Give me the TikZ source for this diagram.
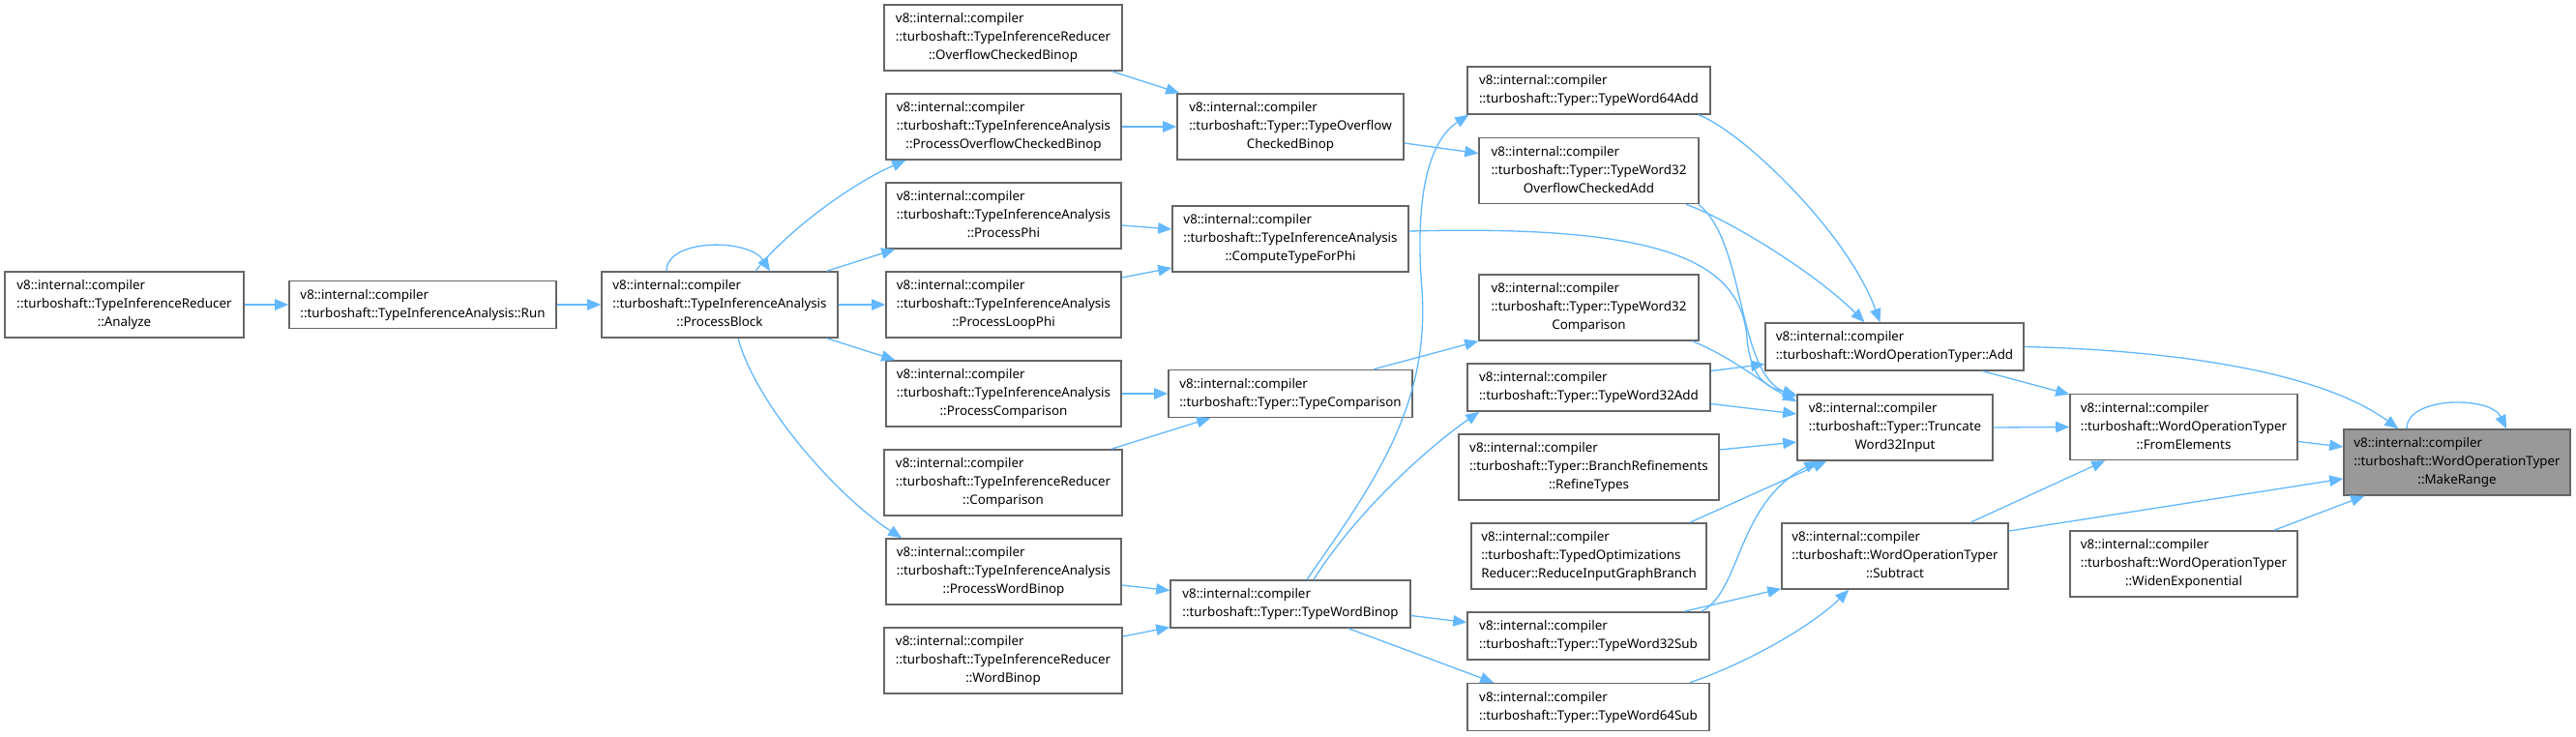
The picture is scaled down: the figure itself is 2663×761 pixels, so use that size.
\documentclass[tikz,border=0pt]{standalone}
\usepackage{fontspec}
\setmainfont{Noto Sans}
\usepackage{xcolor}
\usepackage{tikz}
\usetikzlibrary{arrows.meta, calc}
\definecolor{edgeBlue}{HTML}{63B8FF}
\definecolor{boxLine}{HTML}{666666}
\definecolor{boxFocus}{HTML}{999999}
\newcommand{\twoln}[2]{\begin{tabular}{@{}l@{}}#1\\#2\end{tabular}}
\newcommand{\threeln}[3]{\begin{tabular}{@{}l@{}}#1\\#2\\\multicolumn{1}{@{}c@{}}{#3}\end{tabular}}

\begin{document}
\begin{tikzpicture}[x=0.02cm, y=-0.02cm,
  func/.style={draw=boxLine, fill=white, line width=0.85pt, inner sep=0pt,
    minimum height=1.36cm, font=\fontsize{7.6}{10.8}\selectfont},
  low/.style={minimum height=0.98cm},
  wd/.style={minimum width=#1*0.02cm},
  callarrow/.style={draw=edgeBlue, line width=0.75pt, -{Triangle[length=8pt,width=6.5pt]}}]
\useasboundingbox (0,0) rectangle (2663,761);

% callers of ProcessBlock
\node[func, wd=247] (analyze) at (128.5,315) {\threeln{v8::internal::compiler}{::turboshaft::TypeInferenceReducer}{::Analyze}};
\node[func, low, wd=276] (run) at (437,315) {\twoln{v8::internal::compiler}{::turboshaft::TypeInferenceAnalysis::Run}};
\node[func, wd=244] (procblock) at (744,315) {\threeln{v8::internal::compiler}{::turboshaft::TypeInferenceAnalysis}{::ProcessBlock}};

% third column
\node[func, wd=246] (ovfbinop) at (1037,39) {\threeln{v8::internal::compiler}{::turboshaft::TypeInferenceReducer}{::OverflowCheckedBinop}};
\node[func, wd=243] (procovf) at (1037.5,131) {\threeln{v8::internal::compiler}{::turboshaft::TypeInferenceAnalysis}{::ProcessOverflowCheckedBinop}};
\node[func, wd=243] (procphi) at (1037.5,223) {\threeln{v8::internal::compiler}{::turboshaft::TypeInferenceAnalysis}{::ProcessPhi}};
\node[func, wd=243] (procloopphi) at (1037.5,315) {\threeln{v8::internal::compiler}{::turboshaft::TypeInferenceAnalysis}{::ProcessLoopPhi}};
\node[func, wd=243] (proccmp) at (1037.5,407) {\threeln{v8::internal::compiler}{::turboshaft::TypeInferenceAnalysis}{::ProcessComparison}};
\node[func, wd=246] (cmp) at (1037,499) {\threeln{v8::internal::compiler}{::turboshaft::TypeInferenceReducer}{::Comparison}};
\node[func, wd=243] (procwordbinop) at (1037.5,591) {\threeln{v8::internal::compiler}{::turboshaft::TypeInferenceAnalysis}{::ProcessWordBinop}};
\node[func, wd=246] (wordbinop) at (1037,683) {\threeln{v8::internal::compiler}{::turboshaft::TypeInferenceReducer}{::WordBinop}};

% typer entry points
\node[func, wd=234] (typeovf) at (1334,131) {\threeln{v8::internal::compiler}{::turboshaft::Typer::TypeOverflow}{CheckedBinop}};
\node[func, wd=244] (computephi) at (1334,247) {\threeln{v8::internal::compiler}{::turboshaft::TypeInferenceAnalysis}{::ComputeTypeForPhi}};
\node[func, low, wd=252] (typecmp) at (1334,407) {\twoln{v8::internal::compiler}{::turboshaft::Typer::TypeComparison}};
\node[func, low, wd=248] (typewordbinop) at (1334,624.5) {\twoln{v8::internal::compiler}{::turboshaft::Typer::TypeWordBinop}};

% word typers
\node[func, low, wd=251] (w64add) at (1642.5,93.5) {\twoln{v8::internal::compiler}{::turboshaft::Typer::TypeWord64Add}};
\node[func, wd=227] (w32ovfadd) at (1642.5,176.5) {\threeln{v8::internal::compiler}{::turboshaft::Typer::TypeWord32}{OverflowCheckedAdd}};
\node[func, wd=227] (w32cmp) at (1642.5,318) {\threeln{v8::internal::compiler}{::turboshaft::Typer::TypeWord32}{Comparison}};
\node[func, low, wd=251] (w32add) at (1642.5,400.5) {\twoln{v8::internal::compiler}{::turboshaft::Typer::TypeWord32Add}};
\node[func, wd=269] (branchref) at (1642.5,483) {\threeln{v8::internal::compiler}{::turboshaft::Typer::BranchRefinements}{::RefineTypes}};
\node[func, wd=243] (typedopt) at (1642.5,575) {\threeln{v8::internal::compiler}{::turboshaft::TypedOptimizations}{Reducer::ReduceInputGraphBranch}};
\node[func, low, wd=250] (w32sub) at (1642,657.5) {\twoln{v8::internal::compiler}{::turboshaft::Typer::TypeWord32Sub}};
\node[func, low, wd=250] (w64sub) at (1642,731) {\twoln{v8::internal::compiler}{::turboshaft::Typer::TypeWord64Sub}};

% WordOperationTyper
\node[func, low, wd=267] (add) at (1958.5,358.5) {\twoln{v8::internal::compiler}{::turboshaft::WordOperationTyper::Add}};
\node[func, wd=202] (truncate) at (1959,442) {\threeln{v8::internal::compiler}{::turboshaft::Typer::Truncate}{Word32Input}};
\node[func, wd=234] (subtract) at (1959,575) {\threeln{v8::internal::compiler}{::turboshaft::WordOperationTyper}{::Subtract}};
\node[func, wd=235] (fromelem) at (2257.5,441.5) {\threeln{v8::internal::compiler}{::turboshaft::WordOperationTyper}{::FromElements}};
\node[func, wd=235] (widen) at (2257.5,583) {\threeln{v8::internal::compiler}{::turboshaft::WordOperationTyper}{::WidenExponential}};
\node[func, wd=234, fill=boxFocus] (makerange) at (2540,478) {\threeln{v8::internal::compiler}{::turboshaft::WordOperationTyper}{::MakeRange}};

% calls, left part
\draw[callarrow] (analyze.east) -- (run.west);
\draw[callarrow] (run.east) -- (procblock.west);
\draw[callarrow] ($(procblock.north)+(-55,0)$) .. controls ($(procblock.north)+(-55,-34)$) and ($(procblock.north)+(30,-34)$) .. ($(procblock.north)+(52,0)$);
\draw[callarrow] ($(procblock.north)+(37,0)$) .. controls (812,240) and (880,190) .. ($(procovf.south west)+(21,0)$);
\draw[callarrow] ($(procblock.north east)+(-12,0)$) -- ($(procphi.south west)+(10,0)$);
\draw[callarrow] (procblock.east) -- (procloopphi.west);
\draw[callarrow] ($(procblock.south east)+(-12,0)$) -- ($(proccmp.north west)+(10,0)$);
\draw[callarrow] ($(procblock.south)+(19,0)$) .. controls (782,420) and (868,515) .. ($(procwordbinop.north west)+(17,0)$);

\draw[callarrow] ($(ovfbinop.south east)+(-11,0)$) -- ($(typeovf.north west)+(3,0)$);
\draw[callarrow] (procovf.east) -- (typeovf.west);
\draw[callarrow] ($(procphi.east)+(0,10)$) -- ($(computephi.west)+(0,-10)$);
\draw[callarrow] ($(procloopphi.east)+(0,-28)$) -- ($(computephi.west)+(0,30)$);
\draw[callarrow] (proccmp.east) -- (typecmp.west);
\draw[callarrow] ($(cmp.north east)+(-12,0)$) -- ($(typecmp.south west)+(44,0)$);
\draw[callarrow] ($(procwordbinop.east)+(0,14)$) -- ($(typewordbinop.west)+(0,-14)$);
\draw[callarrow] ($(wordbinop.east)+(0,-25)$) -- ($(typewordbinop.west)+(0,24)$);

% calls, middle part
\draw[callarrow] ($(typeovf.east)+(0,17)$) -- ($(w32ovfadd.west)+(0,-18)$);
\draw[callarrow] ($(computephi.east)+(0,-8)$) .. controls (1720,232) and (1800,270) .. (1806,350) .. controls (1810,390) and (1825,400) .. ($(truncate.north west)+(0,1)$);
\draw[callarrow] ($(typecmp.north)+(86,0)$) -- (w32cmp.south west);
\draw[callarrow] ($(typewordbinop.north)+(17,0)$) .. controls (1420,500) and (1478,420) .. (1470,300) .. controls (1462,200) and (1478,145) .. ($(w64add.south west)+(2,0)$);
\draw[callarrow] ($(typewordbinop.north)+(24,0)$) .. controls (1405,525) and (1480,460) .. ($(w32add.south west)+(13,0)$);
\draw[callarrow] ($(typewordbinop.east)+(0,12)$) -- ($(w32sub.west)+(0,-14)$);
\draw[callarrow] ($(typewordbinop.south)+(60,0)$) -- ($(w64sub.north west)+(28,0)$);

% calls, right part
\draw[callarrow] ($(w64add.south east)+(-13,0)$) .. controls (1800,135) and (1910,240) .. ($(add.north)+(-15,0)$);
\draw[callarrow] ($(w32ovfadd.south east)+(-14,0)$) .. controls (1790,228) and (1880,285) .. ($(add.north)+(-31,0)$);
\draw[callarrow] ($(w32ovfadd.south east)+(-1,0)$) .. controls (1805,250) and (1795,385) .. ($(truncate.north west)+(0,3)$);
\draw[callarrow] ($(w32cmp.south east)+(-7,0)$) .. controls (1795,372) and (1820,395) .. ($(truncate.north west)+(0,8)$);
\draw[callarrow] ($(w32add.east)+(0,-17)$) -- ($(add.west)+(0,18)$);
\draw[callarrow] ($(w32add.east)+(0,17)$) -- ($(truncate.west)+(0,-14)$);
\draw[callarrow] ($(branchref.east)+(0,-18)$) -- ($(truncate.west)+(0,15)$);
\draw[callarrow] ($(typedopt.north east)+(-18,0)$) -- ($(truncate.south west)+(31,0)$);
\draw[callarrow] ($(w32sub.north east)+(-9,0)$) .. controls (1800,612) and (1795,520) .. ($(truncate.south west)+(22,0)$);
\draw[callarrow] ($(w32sub.north east)+(-27,0)$) -- ($(subtract.south west)+(0,-1)$);
\draw[callarrow] ($(w64sub.north east)+(-21,0)$) .. controls (1800,688) and (1870,650) .. ($(subtract.south west)+(70,0)$);

\draw[callarrow] (add.east) .. controls (2250,362) and (2400,385) .. ($(makerange.north west)+(57,0)$);
\draw[callarrow] ($(add.south east)+(-43,0)$) -- ($(fromelem.north west)+(0,1)$);
\draw[callarrow] (truncate.east) -- (fromelem.west);
\draw[callarrow] ($(subtract.north east)+(-40,0)$) -- ($(fromelem.south west)+(37,0)$);
\draw[callarrow] ($(subtract.east)+(0,-26)$) -- ($(makerange.west)+(0,17)$);
\draw[callarrow] ($(fromelem.east)+(0,15)$) -- ($(makerange.west)+(0,-16)$);
\draw[callarrow] ($(widen.north east)+(-25,0)$) -- ($(makerange.south west)+(22,0)$);
\draw[callarrow] ($(makerange.north)+(-52,0)$) .. controls ($(makerange.north)+(-52,-34)$) and ($(makerange.north)+(35,-34)$) .. ($(makerange.north)+(51,0)$);
\end{tikzpicture}
\end{document}
